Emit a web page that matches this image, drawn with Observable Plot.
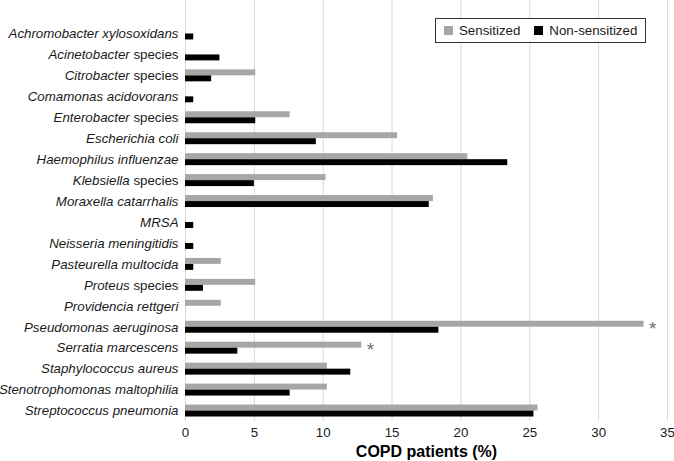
<!DOCTYPE html>
<html><head><meta charset="utf-8">
<script src="https://cdn.jsdelivr.net/npm/d3@7"></script>
<script src="https://cdn.jsdelivr.net/npm/@observablehq/plot@0.6"></script>
<style>
body{margin:0;background:#fff;font-family:"Liberation Sans",Arial,sans-serif;}
#wrap{position:relative;width:674px;height:461px;}
#legend{position:absolute;left:435px;top:18px;width:209px;height:23px;border:1px solid #333;display:flex;align-items:center;font-size:13.3px;color:#1a1a1a;background:#fff;white-space:nowrap;padding-left:8px;box-sizing:content-box;width:201px;}
#legend .sw{display:inline-block;width:9px;height:9px;margin-right:6px;flex:none;}
#legend .item{display:flex;align-items:center;white-space:nowrap;flex:none;}
#legend .item + .item{margin-left:14px;}
svg g[aria-label="x-axis label"] text{font-weight:bold;font-size:16px;fill:#000;}
</style>
</head><body>
<div id="wrap"><div id="chart"></div><div id="legend"></div></div>
<script>
const categories = [
  "Achromobacter xylosoxidans","Acinetobacter species","Citrobacter species","Comamonas acidovorans",
  "Enterobacter species","Escherichia coli","Haemophilus influenzae","Klebsiella species",
  "Moraxella catarrhalis","MRSA","Neisseria meningitidis","Pasteurella multocida","Proteus species",
  "Providencia rettgeri","Pseudomonas aeruginosa","Serratia marcescens","Staphylococcus aureus",
  "Stenotrophomonas maltophilia","Streptococcus pneumonia"
];
const sensitized    = [0, 0, 5.1, 0, 7.6, 15.4, 20.5, 10.2, 18.0, 0, 0, 2.6, 5.1, 2.6, 33.3, 12.8, 10.3, 10.3, 25.6];
const nonSensitized = [0.6, 2.5, 1.9, 0.6, 5.1, 9.5, 23.4, 5.0, 17.7, 0.6, 0.6, 0.6, 1.3, 0, 18.4, 3.8, 12.0, 7.6, 25.3];
const starred = ["Pseudomonas aeruginosa", "Serratia marcescens"];
const seriesNames = ["Sensitized", "Non-sensitized"];
const seriesColors = ["#a6a6a6", "#000000"];
const xTicks = [0, 5, 10, 15, 20, 25, 30, 35];
const xTitle = "COPD patients (%)";

const rows = categories.map((c, i) => ({category: c, s: sensitized[i], n: nonSensitized[i]}));

const chart = Plot.plot({
  width: 674,
  height: 461,
  marginLeft: 185,
  marginRight: 7,
  marginTop: 0,
  marginBottom: 40,
  style: {fontFamily: "'Liberation Sans', Arial, sans-serif", fontSize: "13px", color: "#1a1a1a", background: "#fff"},
  x: {domain: [0, 35], range: [185, 667]},
  y: {domain: categories, range: [23, 421], padding: 0, round: false},
  marks: [
    Plot.gridX(xTicks, {stroke: "#d9d9d9", strokeOpacity: 1, strokeWidth: 1}),
    Plot.barX(rows, {x: "s", y: "category", fill: seriesColors[0], insetTop: 4.5, insetBottom: 10.5}),
    Plot.barX(rows, {x: "n", y: "category", fill: seriesColors[1], insetTop: 10.5, insetBottom: 4.5}),
    Plot.text(rows.filter(d => starred.includes(d.category)), {x: "s", y: "category", text: () => "*", dx: 5, dy: 2, textAnchor: "start", fill: "#6e6e6e", fontSize: 19}),
    Plot.axisY({tickSize: 0, tickPadding: 7, fontSize: 13.3, label: null}),
    Plot.axisX({ticks: xTicks, tickSize: 0, tickPadding: 6, fontSize: 13.3, label: xTitle, labelAnchor: "center", labelArrow: "none", labelOffset: 35})
  ]
});
document.getElementById("chart").appendChild(chart);

// italic species names, with "species" upright
chart.querySelectorAll('g[aria-label="y-axis tick label"] text').forEach(t => {
  const s = t.textContent;
  t.textContent = "";
  const ns = "http://www.w3.org/2000/svg";
  if (s.endsWith(" species")) {
    const a = document.createElementNS(ns, "tspan");
    a.setAttribute("font-style", "italic");
    a.textContent = s.slice(0, -8);
    const b = document.createElementNS(ns, "tspan");
    b.setAttribute("font-style", "normal");
    b.textContent = " species";
    t.appendChild(a); t.appendChild(b);
  } else {
    const a = document.createElementNS(ns, "tspan");
    a.setAttribute("font-style", "italic");
    a.textContent = s;
    t.appendChild(a);
  }
});

const legend = document.getElementById("legend");
seriesNames.forEach((name, i) => {
  const item = document.createElement("span");
  item.className = "item";
  const sw = document.createElement("span");
  sw.className = "sw";
  sw.style.background = seriesColors[i];
  item.appendChild(sw);
  item.appendChild(document.createTextNode(name));
  legend.appendChild(item);
});
</script>
</body></html>
